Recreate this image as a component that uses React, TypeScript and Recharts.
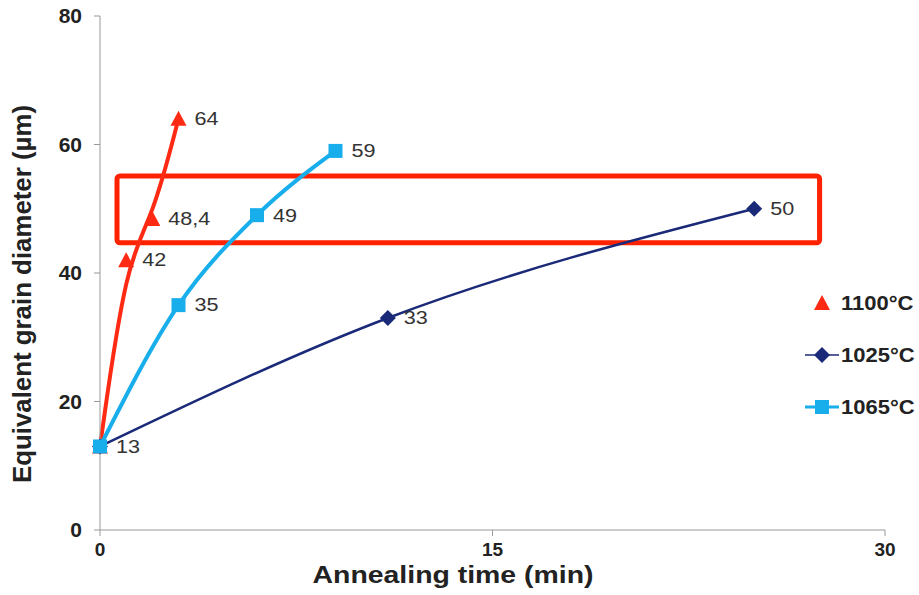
import React from "react";
import {
  LineChart,
  Line,
  XAxis,
  YAxis,
  LabelList,
  ReferenceArea,
} from "recharts";

// annealing time (min) / equivalent grain diameter (µm)
const time1100 = [0, 1, 2, 3];
const size1100 = [13, 42, 48.4, 64];
const time1025 = [0, 11, 25];
const size1025 = [13, 33, 50];
const time1065 = [0, 3, 6, 9];
const size1065 = [13, 35, 49, 59];

const xTicks = [0, 15, 30];
const yTicks = [0, 20, 40, 60, 80];

// highlighted band (data coords)
const boxX = [0.65, 27.5];
const boxY = [44.7, 55.1];

const FONT = "'Liberation Sans', Arial, sans-serif";

const toPoints = (xs: number[], ys: number[]) =>
  xs.map((x, i) => ({ x, y: ys[i] }));

const series = [
  { name: "1100°C", color: "#ff2a14", width: 4, shape: "triangle", curve: "basis", data: toPoints(time1100, size1100), skipFirst: true },
  { name: "1025°C", color: "#1b2a78", width: 2.5, shape: "diamond", curve: "monotone", data: toPoints(time1025, size1025), skipFirst: true },
  { name: "1065°C", color: "#18aeec", width: 4, shape: "square", curve: "monotone", data: toPoints(time1065, size1065), skipFirst: false },
];

const Marker = ({ shape, color, cx, cy }: any) => {
  if (cx == null || cy == null) return null;
  if (shape === "triangle") {
    return <polygon points={`${cx},${cy - 8} ${cx + 8},${cy + 7} ${cx - 8},${cy + 7}`} fill={color} />;
  }
  if (shape === "diamond") {
    return <polygon points={`${cx},${cy - 8} ${cx + 8},${cy} ${cx},${cy + 8} ${cx - 8},${cy}`} fill={color} />;
  }
  return <rect x={cx - 7} y={cy - 7} width={14} height={14} fill={color} />;
};

const makeLabel = (skipFirst: boolean) => (props: any) => {
  const { x, y, value, index } = props;
  if (skipFirst && index === 0) return null;
  return (
    <text
      transform={`translate(${x + 16},${y}) scale(1.2,1)`}
      dominantBaseline="central"
      fontSize={18}
      fontFamily={FONT}
      fill="#333"
    >
      {String(value).replace(".", ",")}
    </text>
  );
};

const YTitle = () => {
  const cx = 22;
  const cy = 294;
  return (
    <text
      x={cx}
      y={cy}
      transform={`rotate(-90 ${cx} ${cy})`}
      textAnchor="middle"
      dominantBaseline="central"
      fontSize={25}
      fontWeight="bold"
      fontFamily={FONT}
      fill="#222"
      textLength={378}
      lengthAdjust="spacingAndGlyphs"
    >
      Equivalent grain diameter (µm)
    </text>
  );
};

const XTitle = () => (
  <text
    x={453}
    y={575}
    textAnchor="middle"
    dominantBaseline="central"
    fontSize={23}
    fontWeight="bold"
    fontFamily={FONT}
    fill="#222"
    textLength={281}
    lengthAdjust="spacingAndGlyphs"
  >
    Annealing time (min)
  </text>
);

const yTickStyle = { fontSize: 21, fontWeight: "bold", fontFamily: FONT, fill: "#222" };
const xTickStyle = { fontSize: 19, fontWeight: "bold", fontFamily: FONT, fill: "#222" };

const LegendIcon = ({ s }: any) => (
  <svg width={36} height={18} style={{ marginRight: 1 }}>
    {s.shape !== "triangle" && (
      <line x1={1} y1={9} x2={35} y2={9} stroke={s.color} strokeWidth={s.width - 1} />
    )}
    <Marker shape={s.shape} color={s.color} cx={18} cy={9} />
  </svg>
);

export default function App() {
  return (
    <div style={{ position: "absolute", left: 0, top: 0, width: 919, height: 595, background: "#fff" }}>
      <LineChart
        width={919}
        height={595}
        margin={{ top: 16, right: 34, left: 0, bottom: 0 }}
      >
        <XAxis
          dataKey="x"
          type="number"
          domain={[0, 30]}
          ticks={xTicks}
          height={65}
          stroke="#999"
          tickSize={6}
          tickMargin={7}
          tick={xTickStyle}
          allowDuplicatedCategory={false}
          label={<XTitle />}
        />
        <YAxis
          type="number"
          domain={[0, 80]}
          ticks={yTicks}
          width={100}
          stroke="#999"
          tickSize={6}
          tickMargin={12}
          tick={yTickStyle}
          label={<YTitle />}
        />
        <ReferenceArea
          x1={boxX[0]}
          x2={boxX[1]}
          y1={boxY[0]}
          y2={boxY[1]}
          fill="none"
          stroke="#ff2200"
          strokeWidth={5}
          radius={3}
          ifOverflow="visible"
        />
        {series.map((s) => (
          <Line
            key={s.name}
            data={s.data}
            dataKey="y"
            name={s.name}
            type={s.curve as any}
            stroke={s.color}
            strokeWidth={s.width}
            dot={(p: any) => <Marker key={`${s.name}-${p.index}`} shape={s.shape} color={s.color} cx={p.cx} cy={p.cy} />}
            activeDot={false}
            isAnimationActive={false}
          >
            <LabelList dataKey="y" content={makeLabel(s.skipFirst)} />
          </Line>
        ))}
      </LineChart>
      <div
        style={{
          position: "absolute",
          left: 804,
          top: 292,
          fontFamily: FONT,
          fontWeight: "bold",
          fontSize: 20,
          color: "#222",
        }}
      >
        {series.map((s) => (
          <div key={s.name} style={{ display: "flex", alignItems: "center", height: 22, marginBottom: 30 }}>
            <LegendIcon s={s} />
            <span style={{ display: "inline-block", transform: "scaleX(1.1)", transformOrigin: "left center" }}>{s.name}</span>
          </div>
        ))}
      </div>
    </div>
  );
}
